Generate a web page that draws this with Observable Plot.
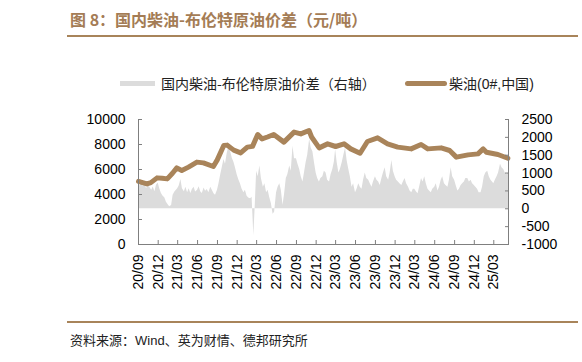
<!DOCTYPE html>
<html><head><meta charset="utf-8">
<script src="https://cdn.jsdelivr.net/npm/d3@7"></script>
<script src="https://cdn.jsdelivr.net/npm/@observablehq/plot@0.6"></script>
<style>
body{margin:0;background:#fff;}
#wrap{position:relative;width:582px;height:362px;overflow:hidden;font-family:"Liberation Sans","Noto Sans CJK SC",sans-serif;}
#chart{position:absolute;left:0;top:0;}
.abs{position:absolute;white-space:nowrap;}
#title{left:70px;top:7px;font-size:16px;font-weight:bold;color:#a47c55;font-family:"Noto Sans CJK SC",sans-serif;}
.rule{position:absolute;left:67px;width:511px;height:2px;background:#a8845a;}
.leg{font-size:14px;color:#222;top:73px;font-family:"Noto Sans CJK SC","Liberation Sans",sans-serif;}
#source{left:70px;top:330px;font-size:13px;color:#222;font-family:"Noto Sans CJK SC","Liberation Sans",sans-serif;}
</style></head>
<body><div id="wrap">
<div id="chart"></div>
<div id="title" class="abs">图 8：国内柴油-布伦特原油价差（元/吨）</div>
<div class="rule" style="top:35px"></div>
<div class="abs" style="left:120px;top:80.5px;width:35px;height:5px;background:#dcdcdc"></div>
<div class="abs leg" style="left:161px">国内柴油-布伦特原油价差（右轴）</div>
<div class="abs" style="left:405px;top:80.5px;width:42px;height:5px;border-radius:3px;background:#a9845a"></div>
<div class="abs leg" style="left:449px"><span style="font-family:'Noto Sans CJK SC'">柴油</span><span style="font-family:'Liberation Sans'">(0#,</span>中国<span style="font-family:'Liberation Sans'">)</span></div>
<div class="rule" style="top:321px"></div>
<div id="source" class="abs">资料来源：<span style="font-family:'Liberation Sans'">Wind</span>、英为财情、德邦研究所</div>
</div>
<script>
// Diesel price (0#, China), left axis, yuan/ton
const dieselDates = ["2020-09-01","2020-09-20","2020-10-10","2020-10-28","2020-11-26","2020-12-20","2021-01-12","2021-02-05","2021-02-25","2021-03-20","2021-04-20","2021-05-29","2021-06-28","2021-08-13","2021-08-31","2021-09-30","2021-10-16","2021-11-15","2021-12-17","2022-01-17","2022-02-10","2022-03-06","2022-03-26","2022-04-20","2022-05-19","2022-07-05","2022-08-21","2022-09-21","2022-10-29","2022-11-10","2022-12-15","2023-01-23","2023-03-01","2023-04-09","2023-05-10","2023-06-22","2023-07-26","2023-09-11","2023-10-27","2023-12-13","2024-02-13","2024-03-30","2024-04-30","2024-07-01","2024-08-09","2024-09-09","2024-11-02","2024-12-18","2025-01-11","2025-01-26","2025-03-20","2025-05-05"];
const dieselValues = [5050,4950,4850,4950,5330,5300,5250,5700,6130,5920,6190,6590,6530,6240,6770,7920,7950,7550,7330,7790,7850,8800,8450,8600,8800,8190,8990,8850,9120,8600,7730,8050,7840,8050,7650,7300,8240,8530,8050,7790,7650,8000,7650,7730,7520,6990,7170,7250,7650,7380,7200,6900];

// Domestic diesel - Brent spread, right axis: readings on days 1, 8, 16, 23 of each month from 2020-09
const spreadDays = [1, 8, 16, 23];
const spreadValues = [
  720,640,760,620,  700,560,650,600,  520,610,480,660,  720,560,430,360,
  300,180,110,60,   90,380,470,520,   560,640,820,560,  480,600,450,560,
  430,540,600,470,  520,620,470,430,  580,490,540,450,  600,520,420,380,
  520,700,950,1150, 1380,1250,1550,1720, 1600,1420,1300,1150, 950,820,700,560,
  450,520,350,300,  280,320,-750,150, 1050,900,1200,850, 600,700,450,520,
  300,150,-150,-100, 450,600,700,520, 100,400,850,950, 1200,1050,1750,1400,
  1400,1250,1100,900, 750,1000,1300,1500, 1950,1700,1600,1300, 1000,850,750,850,
  900,1050,1000,800, 750,950,1100,1300, 1650,1300,1000,1100, 1300,1500,1700,1350,
  1100,900,600,700, 450,550,700,600, 550,800,1000,850, 800,700,600,750,
  900,800,750,650,  850,1000,1150,900, 800,1000,1350,1050, 900,800,750,700,
  650,750,850,700,  600,500,450,550,  550,480,420,600,  850,750,900,700,
  550,500,450,550,  600,700,500,600,  800,900,700,650,  600,800,1150,900,
  800,650,500,550,  650,700,750,850,  850,750,800,700,  650,600,550,450,
  450,600,900,1000, 1050,900,800,750, 700,800,900,1000, 1250,1150,1100,1000,
  950,1000
];

const xTickLabels = ["20/09","20/12","21/03","21/06","21/09","21/12","22/03","22/06","22/09","22/12","23/03","23/06","23/09","23/12","24/03","24/06","24/09","24/12","25/03"];
const leftTicks = [0,2000,4000,6000,8000,10000];
const rightTicks = [-1000,-500,0,500,1000,1500,2000,2500];

const parse = d3.utcParse("%Y-%m-%d");
const diesel = dieselDates.map((d,i)=>({date: parse(d), value: dieselValues[i]}));
const spread = spreadValues.map((v,i)=>({date: new Date(Date.UTC(2020, 8 + Math.floor(i/4), spreadDays[i%4])), value: v}));
const xTicks = xTickLabels.map(s => new Date(Date.UTC(2000 + +s.slice(0,2), +s.slice(3)-1, 1)));

const toLeft = v => (v + 1000) * 10000 / 3500;
const fromLeft = y => y * 3500 / 10000 - 1000;

const axisColor = "#7f7f7f";
const plot = Plot.plot({
  width: 582, height: 362,
  marginTop: 119, marginBottom: 118, marginLeft: 138, marginRight: 74,
  style: {fontFamily: "Liberation Sans, Arial, sans-serif", fontSize: "14px", color: "#000", background: "transparent"},
  x: {type: "utc", domain: [parse("2020-09-01"), parse("2025-05-08")], label: null},
  y: {domain: [0, 10000], label: null},
  marks: [
    Plot.areaY(spread, {x: "date", y1: () => toLeft(0), y2: d => toLeft(d.value), fill: "#dcdcdc", curve: "linear"}),
    Plot.lineY(diesel, {x: "date", y: "value", stroke: "#a9845a", strokeWidth: 5, strokeLinejoin: "round", strokeLinecap: "round", curve: "linear"}),
    Plot.frame({anchor: "left", stroke: axisColor}),
    Plot.frame({anchor: "right", stroke: axisColor}),
    Plot.frame({anchor: "bottom", stroke: axisColor}),
    Plot.axisY(leftTicks, {anchor: "left", label: null, tickSize: -4, tickPadding: 17, stroke: axisColor, fill: "#000", tickFormat: d => String(d)}),
    Plot.axisY(rightTicks.map(toLeft), {anchor: "right", label: null, tickSize: -4, tickPadding: 17, stroke: axisColor, fill: "#000", tickFormat: d => String(Math.round(fromLeft(d)))}),
    Plot.axisX(xTicks, {anchor: "bottom", label: null, tickSize: -4, tickPadding: 14, tickRotate: -90, stroke: axisColor, fill: "#000", tickFormat: (d) => xTickLabels[xTicks.findIndex(t => +t === +d)]})
  ]
});
document.getElementById("chart").appendChild(plot);
</script>
</body></html>
